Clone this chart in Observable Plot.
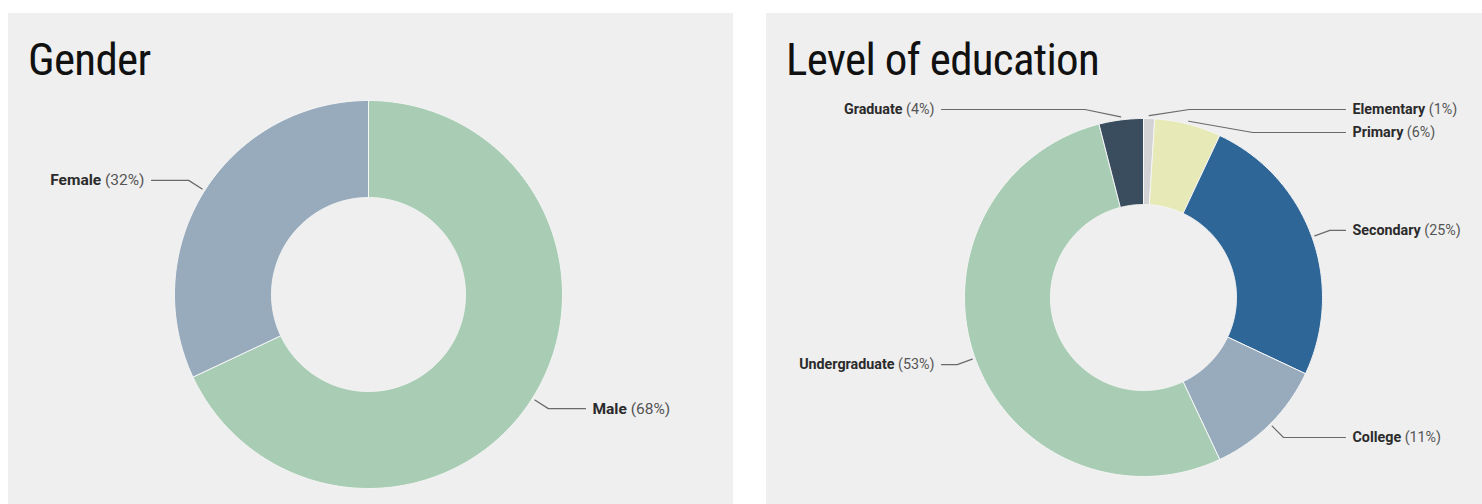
<!DOCTYPE html>
<html><head><meta charset="utf-8">
<script src="https://cdn.jsdelivr.net/npm/d3@7"></script>
<script src="https://cdn.jsdelivr.net/npm/@observablehq/plot@0.6"></script>
<style>
html,body{margin:0;padding:0;background:#fff;}
body{width:1482px;height:504px;overflow:hidden;position:relative;font-family:Roboto,sans-serif;}
.panel{position:absolute;top:13px;background:#efefef;height:491px;overflow:hidden;}
.title{height:80px;box-sizing:border-box;font-family:"Roboto Condensed","Liberation Sans Narrow","DejaVu Sans Condensed",Roboto,sans-serif;font-stretch:condensed;font-size:45px;letter-spacing:-0.7px;color:#111;line-height:45px;padding-top:24px;padding-left:20px;white-space:nowrap;}
svg{display:block;}
</style>
</head><body>
<div class="panel" id="left" style="left:8px;width:725px;"><div class="title">Gender</div></div>
<div class="panel" id="right" style="left:766px;width:716px;"><div class="title">Level of education</div></div>
<script>
// ---- data ----
const genderCategories = ["Male", "Female"];
const genderValues = [68, 32];
const genderColors = ["#a9cdb4", "#98abbd"];

const eduCategories = ["Elementary", "Primary", "Secondary", "College", "Undergraduate", "Graduate"];
const eduValues = [1, 6, 25, 11, 53, 4];
const eduColors = ["#d3d3d5", "#e7e9b6", "#2f6698", "#98abbd", "#a9cdb4", "#3a4d5e"];

function donut({categories, values, colors, width, height, cx, cy, R, r, minLabelY, fontSize}) {
  const total = d3.sum(values);
  const arcs = d3.pie().sort(null).value(d => d)(values);
  const ir = r / R;
  // arc polygons in radius units
  const arcPoints = [];
  arcs.forEach((a, i) => {
    const name = categories[i], color = colors[i];
    const n = Math.max(4, Math.ceil((a.endAngle - a.startAngle) / (Math.PI / 360)));
    const pts = [];
    for (let k = 0; k <= n; k++) {
      const t = a.startAngle + (a.endAngle - a.startAngle) * k / n;
      pts.push({x: Math.sin(t), y: -Math.cos(t)});
    }
    for (let k = n; k >= 0; k--) {
      const t = a.startAngle + (a.endAngle - a.startAngle) * k / n;
      pts.push({x: ir * Math.sin(t), y: -ir * Math.cos(t)});
    }
    pts.push(pts[0]);
    pts.forEach(p => arcPoints.push({...p, name, color}));
  });
  // labels
  const u = 1 / R; // one pixel in radius units
  const labels = arcs.map((a, i) => {
    const t = (a.startAngle + a.endAngle) / 2;
    const side = Math.sin(t) >= 0 ? 1 : -1;
    const ax = (1 + 3 * u) * Math.sin(t), ay = -(1 + 3 * u) * Math.cos(t);
    const ex = (1 + 19 * u) * Math.sin(t), ey = -(1 + 19 * u) * Math.cos(t);
    return {name: categories[i], pct: Math.round(values[i] / total * 100), side, t, ax, ay, ex, ey, ly: ey};
  });
  const minY = (minLabelY - cy) * u, gap = 23 * u;
  [1, -1].forEach(s => {
    const group = labels.filter(d => d.side === s).sort((a, b) => a.ey - b.ey);
    let prev = -Infinity;
    group.forEach(d => {
      d.ly = Math.max(d.ey, minY, prev + gap);
      prev = d.ly;
    });
  });
  const leaders = [];
  labels.forEach(d => {
    const dy = Math.abs(d.ly - d.ey);
    const bx = d.ex + d.side * Math.min(4 * dy, 60 * u);
    const endX = d.side * (1 + 23 * u);
    leaders.push({x: d.ax, y: d.ay, name: d.name});
    leaders.push({x: bx, y: d.ly, name: d.name});
    leaders.push({x: endX, y: d.ly, name: d.name});
    d.tx = d.side * (1 + 30 * u);
    d.label = `${d.name} (${d.pct}%)`;
  });
  const textOpts = {x: "tx", y: "ly", text: "label", fontSize, lineAnchor: "middle", fill: "#2b2b2b"};
  const svg = Plot.plot({
    width, height,
    margin: 0,
    x: {domain: [-cx / R, (width - cx) / R], range: [0, width], axis: null},
    y: {domain: [-cy / R, (height - cy) / R], range: [0, height], axis: null},
    color: {type: "identity"},
    style: {background: "transparent", fontFamily: "Roboto, sans-serif", overflow: "visible"},
    marks: [
      Plot.line(arcPoints, {x: "x", y: "y", z: "name", fill: "color", stroke: "#f6f6f6", strokeWidth: 1, strokeLinejoin: "round"}),
      Plot.line(leaders, {x: "x", y: "y", z: "name", stroke: "#6a6a6a", strokeWidth: 1.2}),
      Plot.text(labels.filter(d => d.side > 0), {...textOpts, textAnchor: "start"}),
      Plot.text(labels.filter(d => d.side < 0), {...textOpts, textAnchor: "end"})
    ]
  });
  d3.select(svg).selectAll("g[aria-label='text'] text").each(function() {
    const s = this.textContent;
    const m = s.match(/^(.*) (\(.*\))$/);
    if (!m) return;
    const el = d3.select(this);
    el.text(null);
    el.append("tspan").attr("font-weight", "bold").attr("fill", "#2b2b2b").text(m[1]);
    el.append("tspan").attr("fill", "#555").text(" " + m[2]);
  });
  return svg;
}

document.getElementById("left").appendChild(donut({
  categories: genderCategories, values: genderValues, colors: genderColors,
  width: 725, height: 411, cx: 360, cy: 201, R: 194, r: 97, minLabelY: 16, fontSize: 15.5
}));
document.getElementById("right").appendChild(donut({
  categories: eduCategories, values: eduValues, colors: eduColors,
  width: 716, height: 411, cx: 377, cy: 204, R: 179, r: 93, minLabelY: 16, fontSize: 14.3
}));
</script>
</body></html>
